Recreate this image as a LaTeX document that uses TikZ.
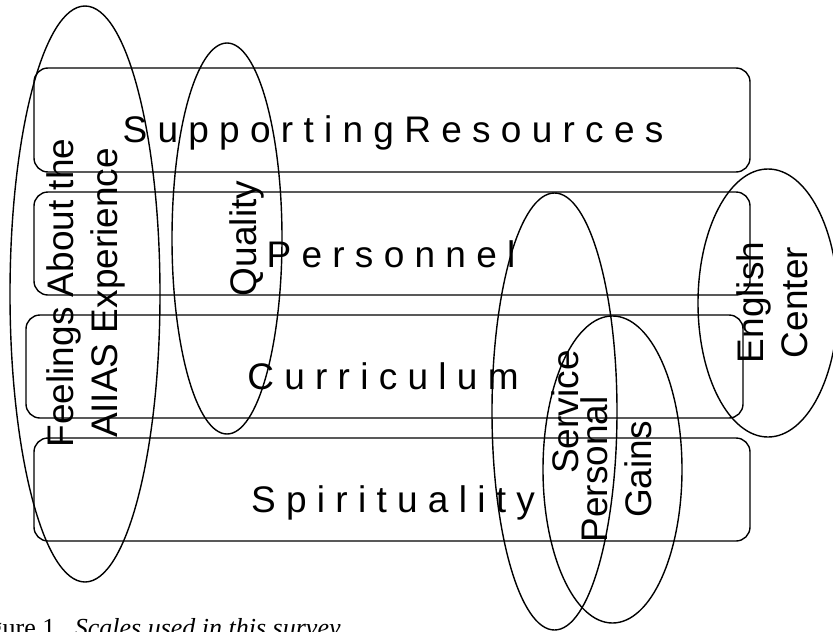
\documentclass[tikz,border=0pt]{standalone}
\usepackage{fontspec}
\setmainfont{Liberation Sans}
\newfontfamily\capfont{Liberation Serif}
\usetikzlibrary{shapes.geometric}

\begin{document}
\begin{tikzpicture}[x=1pt,y=-1pt,
    line width=1.4pt,
    scalebox/.style={draw, rounded corners=14pt},
    scaleoval/.style={draw, ellipse, inner sep=0pt, fill=none},
    boxtext/.style={font=\fontsize{37}{44}\selectfont, inner sep=0pt, anchor=base},
    ovaltext/.style={font=\fontsize{37}{44}\selectfont, inner sep=0pt, rotate=90, align=center},
  ]
  \useasboundingbox (0,0) rectangle (833,632);
  \clip (0,0) rectangle (833,632);

  % the four horizontal scale boxes
  \draw[scalebox] (34,68)  rectangle (750,172);
  \draw[scalebox] (34,192) rectangle (750,295);
  \draw[scalebox] (26,315) rectangle (743,418);
  \draw[scalebox] (34,438) rectangle (750,541);

  \node[boxtext] (support) at (393,142) {S u p p o r t i n g R e s o u r c e s};
  \node[boxtext] (personnel) at (391,267) {P e r s o n n e l};
  \node[boxtext] (curriculum) at (383,389) {C u r r i c u l u m};
  \node[boxtext] (spirit) at (393,512) {S p i r i t u a l i t y};

  % the overlapping scale ovals
  \node[scaleoval, minimum width=150pt, minimum height=576pt] (feelings) at (85,294) {};
  \node[scaleoval, minimum width=110pt, minimum height=391pt] (quality) at (227,238.5) {};
  \node[scaleoval, minimum width=125pt, minimum height=437pt] (service) at (554.5,411.5) {};
  \node[scaleoval, minimum width=139pt, minimum height=307pt] (gains) at (612.5,469.5) {};
  \node[scaleoval, minimum width=140pt, minimum height=268pt] (english) at (768,303) {};

  % vertical labels of the ovals
  \node[ovaltext] (feelingslabel) at (86.2,293) {Feelings About the\\AIIAS Experience};
  \node[ovaltext, anchor=base] (qualitylabel) at (256,238.5) {Quality};
  \node[ovaltext, anchor=base] (servicelabel) at (578,412) {Service};
  \node[ovaltext] (gainslabel) at (616,469.5) {Personal\\Gains};
  \node[ovaltext] (englishlabel) at (772,302.5) {English\\Center};

  % caption
  \node[font=\capfont\fontsize{26}{30}\selectfont, inner sep=0pt, anchor=base west]
    (caption) at (-32.7,636) {Figure 1.\ \ \textit{Scales used in this survey}};
\end{tikzpicture}
\end{document}
